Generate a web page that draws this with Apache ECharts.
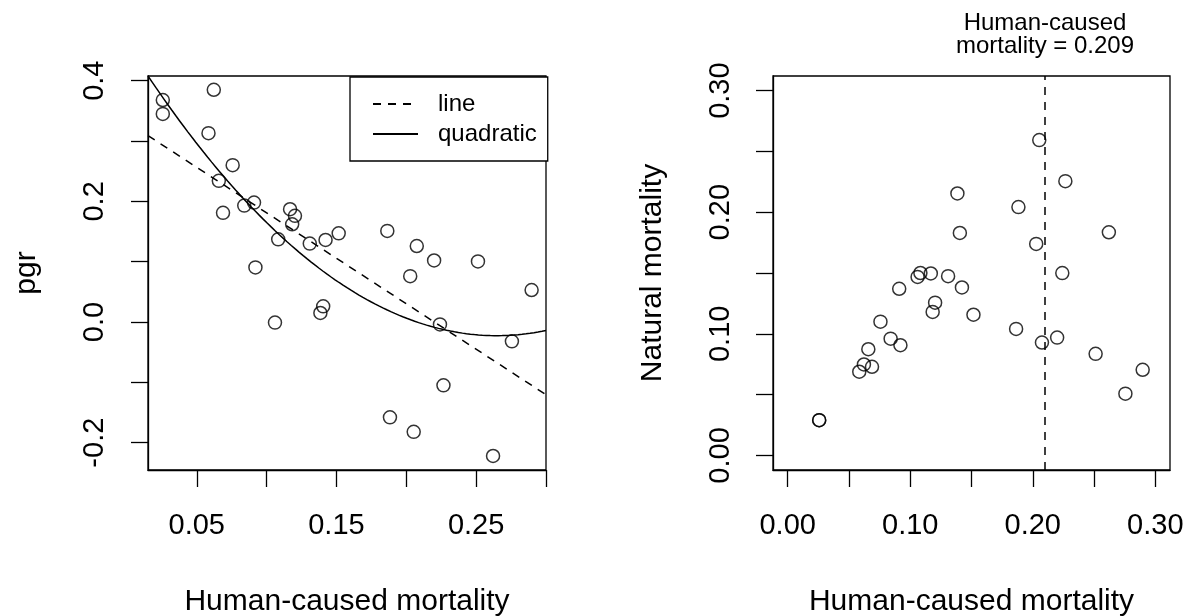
<!DOCTYPE html>
<html>
<head>
<meta charset="utf-8">
<script src="https://cdn.jsdelivr.net/npm/echarts@6/dist/echarts.min.js"></script>
<style>
html,body{margin:0;padding:0;background:#fff;}
#chart{width:1187px;height:616px;}
</style>
</head>
<body>
<div id="chart"></div>
<script>
// ---- data ----
var humanMort = [0.0257, 0.0257, 0.0584, 0.0622, 0.0658, 0.0688, 0.0757, 0.0840, 0.0910, 0.0920,
                 0.1060, 0.1083, 0.1168, 0.1183, 0.1203, 0.1309, 0.1385, 0.1405, 0.1422, 0.1516,
                 0.1864, 0.1883, 0.2028, 0.2053, 0.2075, 0.2199, 0.2241, 0.2266, 0.2513, 0.2621,
                 0.2756, 0.2897];
var pgr = [0.368, 0.345, 0.313, 0.385, 0.234, 0.181, 0.260, 0.193, 0.198, 0.0905,
           -0.001, 0.137, 0.187, 0.162, 0.176, 0.130, 0.015, 0.026, 0.136, 0.147,
           0.151, -0.158, 0.076, -0.182, 0.126, 0.102, -0.004, -0.105, 0.1005, -0.222,
           -0.032, 0.053];
var naturalMort = [0.029, 0.029, 0.0688, 0.0748, 0.0873, 0.0729, 0.110, 0.096, 0.137, 0.0906,
                   0.1468, 0.150, 0.1496, 0.118, 0.1256, 0.1474, 0.2154, 0.1829, 0.1381, 0.1157,
                   0.104, 0.2042, 0.1739, 0.2593, 0.0928, 0.0969, 0.1499, 0.2255, 0.0835, 0.1835,
                   0.0508, 0.0704];
var thresholdHuman = 0.209;

// axis ranges and tick labels
var leftXRange = [0.0151, 0.300];
var leftYRange = [-0.2453, 0.4078];
var rightXRange = [-0.012, 0.312];
var rightYRange = [-0.012, 0.312];
var leftXTicks = [0.05, 0.10, 0.15, 0.20, 0.25, 0.30];
var leftXLabels = [0.05, 0.15, 0.25];
var leftYTicks = [-0.2, -0.1, 0.0, 0.1, 0.2, 0.3, 0.4];
var leftYLabels = [-0.2, 0.0, 0.2, 0.4];
var rightTicks = [0, 0.05, 0.10, 0.15, 0.20, 0.25, 0.30];
var rightLabels = [0, 0.10, 0.20, 0.30];
var legendNames = ['line', 'quadratic'];

// ---- least squares fits (polynomial of given degree) ----
function polyFit(xs, ys, deg) {
  var n = deg + 1, A = [], b = [];
  for (var i = 0; i < n; i++) { A.push(new Array(n).fill(0)); b.push(0); }
  for (var k = 0; k < xs.length; k++) {
    for (var i = 0; i < n; i++) {
      b[i] += Math.pow(xs[k], i) * ys[k];
      for (var j = 0; j < n; j++) A[i][j] += Math.pow(xs[k], i + j);
    }
  }
  for (var c = 0; c < n; c++) {
    var p = c;
    for (var r = c + 1; r < n; r++) if (Math.abs(A[r][c]) > Math.abs(A[p][c])) p = r;
    var t = A[c]; A[c] = A[p]; A[p] = t; var tb = b[c]; b[c] = b[p]; b[p] = tb;
    for (var r = c + 1; r < n; r++) {
      var f = A[r][c] / A[c][c];
      for (var j = c; j < n; j++) A[r][j] -= f * A[c][j];
      b[r] -= f * b[c];
    }
  }
  var coef = new Array(n).fill(0);
  for (var i = n - 1; i >= 0; i--) {
    var s = b[i];
    for (var j = i + 1; j < n; j++) s -= A[i][j] * coef[j];
    coef[i] = s / A[i][i];
  }
  return coef;
}
function evalPoly(coef, x) { var s = 0; for (var i = 0; i < coef.length; i++) s += coef[i] * Math.pow(x, i); return s; }

var linCoef = polyFit(humanMort, pgr, 1);
var quadCoef = polyFit(humanMort, pgr, 2);
var lineData = [], quadData = [];
var nSteps = 100;
for (var i = 0; i <= nSteps; i++) {
  var x = leftXRange[0] + (leftXRange[1] - leftXRange[0]) * i / nSteps;
  quadData.push([x, evalPoly(quadCoef, x)]);
}
lineData.push([leftXRange[0], evalPoly(linCoef, leftXRange[0])]);
lineData.push([leftXRange[1], evalPoly(linCoef, leftXRange[1])]);

var leftPts = humanMort.map(function (x, i) { return [x, pgr[i]]; });
var rightPts = humanMort.map(function (x, i) { return [x, naturalMort[i]]; });

var FONT = "'Liberation Sans', Arial, sans-serif";
var BLACK = '#000';

function axisCommon(extra) {
  var base = {
    type: 'value',
    scale: true,
    splitLine: { show: false },
    axisLine: { show: true, onZero: false, lineStyle: { color: BLACK, width: 1.3 } },
    axisTick: { show: true, inside: false, length: 17, lineStyle: { color: BLACK, width: 1.3 } },
    axisLabel: { color: BLACK, fontFamily: FONT, fontSize: 29, margin: 38 },
    nameLocation: 'middle',
    nameTextStyle: { color: BLACK, fontFamily: FONT, fontSize: 30 }
  };
  for (var k in extra) {
    if (typeof extra[k] === 'object' && !Array.isArray(extra[k]) && base[k]) {
      base[k] = Object.assign({}, base[k], extra[k]);
    } else base[k] = extra[k];
  }
  return base;
}

var option = {
  backgroundColor: '#fff',
  animation: false,
  textStyle: { fontFamily: FONT },
  grid: [
    { left: 148, top: 76, width: 398, height: 394, show: true, borderColor: BLACK, borderWidth: 1.3,
      backgroundColor: 'transparent', containLabel: false, outerBoundsMode: 'none' },
    { left: 773, top: 76, width: 397, height: 394, show: true, borderColor: BLACK, borderWidth: 1.3,
      backgroundColor: 'transparent', containLabel: false, outerBoundsMode: 'none' }
  ],
  legend: {
    data: legendNames,
    orient: 'vertical',
    left: 350,
    top: 77,
    borderColor: BLACK,
    borderWidth: 1.3,
    padding: [15, 11, 15, 22],
    itemWidth: 45,
    itemHeight: 14,
    itemGap: 6,
    selectedMode: false,
    backgroundColor: '#fff',
    itemStyle: { color: 'rgba(0,0,0,0)', borderWidth: 0, opacity: 0 },
    textStyle: { color: BLACK, fontFamily: FONT, fontSize: 24, padding: [0, 0, 0, 15] }
  },
  xAxis: [
    axisCommon({
      gridIndex: 0, min: leftXRange[0], max: leftXRange[1],
      name: 'Human-caused mortality', nameGap: 117,
      axisTick: { customValues: leftXTicks },
      axisLabel: { customValues: leftXLabels, margin: 41, formatter: function (v) { return v.toFixed(2); } }
    }),
    axisCommon({
      gridIndex: 1, min: rightXRange[0], max: rightXRange[1],
      name: 'Human-caused mortality', nameGap: 117,
      axisTick: { customValues: rightTicks },
      axisLabel: { customValues: rightLabels, margin: 41, formatter: function (v) { return v.toFixed(2); } }
    })
  ],
  yAxis: [
    axisCommon({
      gridIndex: 0, min: leftYRange[0], max: leftYRange[1],
      name: 'pgr', nameGap: 106,
      axisTick: { customValues: leftYTicks },
      axisLabel: { customValues: leftYLabels, rotate: 90, margin: 39, formatter: function (v) { return v.toFixed(1); } }
    }),
    axisCommon({
      gridIndex: 1, min: rightYRange[0], max: rightYRange[1],
      name: 'Natural mortality', nameGap: 105,
      axisTick: { customValues: rightTicks },
      axisLabel: { customValues: rightLabels, rotate: 90, formatter: function (v) { return v.toFixed(2); } }
    })
  ],
  series: [
    {
      type: 'scatter', xAxisIndex: 0, yAxisIndex: 0, data: leftPts,
      symbol: 'circle', symbolSize: 13,
      itemStyle: { color: 'rgba(0,0,0,0)', borderColor: BLACK, borderWidth: 1.5 },
      emphasis: { disabled: true }, silent: true
    },
    {
      name: 'line', type: 'line', xAxisIndex: 0, yAxisIndex: 0, data: lineData,
      symbol: 'none', clip: true, silent: true,
      lineStyle: { color: BLACK, width: 1.5, type: [8, 7] },
      itemStyle: { color: BLACK }
    },
    {
      name: 'quadratic', type: 'line', xAxisIndex: 0, yAxisIndex: 0, data: quadData,
      symbol: 'none', clip: true, silent: true, smooth: false,
      lineStyle: { color: BLACK, width: 1.5, type: 'solid' },
      itemStyle: { color: BLACK }
    },
    {
      type: 'scatter', xAxisIndex: 1, yAxisIndex: 1, data: rightPts,
      symbol: 'circle', symbolSize: 13,
      itemStyle: { color: 'rgba(0,0,0,0)', borderColor: BLACK, borderWidth: 1.5 },
      emphasis: { disabled: true }, silent: true,
      markLine: {
        silent: true, symbol: 'none', animation: false,
        lineStyle: { color: BLACK, width: 1.5, type: [8, 7] },
        label: {
          show: true, position: 'end', distance: 18,
          color: BLACK, fontFamily: FONT, fontSize: 24, lineHeight: 23,
          formatter: function () { return 'Human-caused\nmortality = ' + thresholdHuman.toFixed(3); }
        },
        data: [{ xAxis: thresholdHuman }]
      }
    }
  ]
};

var chart = echarts.init(document.getElementById('chart'), null, { renderer: 'canvas' });
chart.setOption(option);
</script>
</body>
</html>
